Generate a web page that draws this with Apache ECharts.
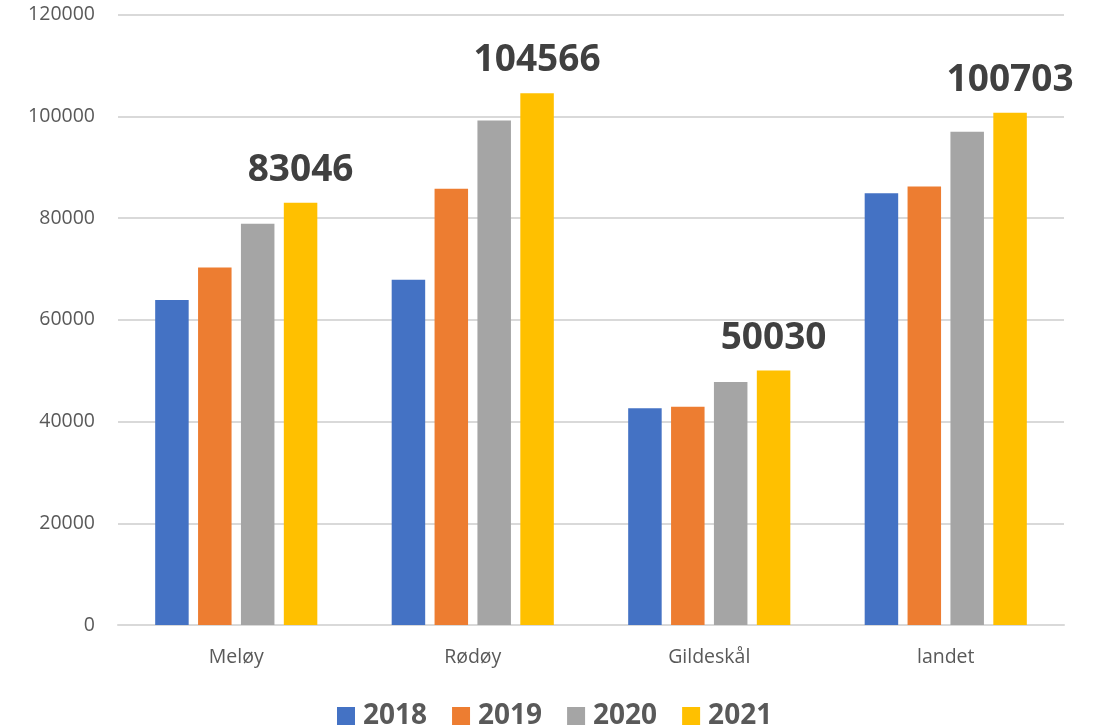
<!DOCTYPE html>
<html>
<head>
<meta charset="utf-8">
<script src="https://cdn.jsdelivr.net/npm/echarts@6/dist/echarts.min.js"></script>
<style>html,body{margin:0;padding:0;background:#fff}#c{width:1101px;height:728px}</style>
</head>
<body>
<div id="c"></div>
<script>
const categories = ['Meløy', 'Rødøy', 'Gildeskål', 'landet'];
const years = ['2018', '2019', '2020', '2021'];
const v2018 = [63900, 67900, 42600, 84900];
const v2019 = [70300, 85800, 42900, 86200];
const v2020 = [78900, 99200, 47800, 97000];
const v2021 = [83046, 104566, 50030, 100703];
const yTicks = [0, 20000, 40000, 60000, 80000, 100000, 120000];
const colors = ['#4472C4', '#ED7D31', '#A5A5A5', '#FFC000'];
const seriesValues = [v2018, v2019, v2020, v2021];

const chart = echarts.init(document.getElementById('c'), null, {renderer: 'canvas'});
const FONT = 'Open Sans';
chart.setOption({
  animation: false,
  backgroundColor: '#ffffff',
  color: colors,
  grid: {left: 118, right: 37, top: 14.7, bottom: 103, containLabel: false},
  legend: {
    data: years,
    left: 332,
    top: 697,
    itemWidth: 18,
    itemHeight: 18,
    itemGap: 25,
    icon: 'rect',
    textStyle: {fontFamily: FONT, fontSize: 28, fontWeight: 'bold', color: '#595959', padding: [0, 0, 0, 3]}
  },
  xAxis: {
    type: 'category',
    data: categories,
    axisLine: {show: true, lineStyle: {color: '#D9D9D9', width: 2}},
    axisTick: {show: false},
    axisLabel: {fontFamily: FONT, fontSize: 19.5, color: '#595959', margin: 22}
  },
  yAxis: {
    type: 'value',
    min: yTicks[0],
    max: yTicks[yTicks.length - 1],
    interval: yTicks[1] - yTicks[0],
    axisLine: {show: false},
    axisTick: {show: false},
    splitLine: {lineStyle: {color: '#D9D9D9', width: 2}},
    axisLabel: {fontFamily: FONT, fontSize: 19.5, color: '#595959', margin: 23, formatter: v => String(v)}
  },
  series: years.map((y, i) => ({
    name: y,
    type: 'bar',
    data: seriesValues[i],
    barWidth: 33.5,
    barGap: '28%',
    itemStyle: {color: colors[i]},
    label: i === 3 ? {
      show: true,
      position: 'top',
      distance: 14,
      fontFamily: FONT,
      fontSize: 37,
      fontWeight: 'bold',
      color: '#404040'
    } : {show: false}
  }))
});
</script>
</body>
</html>
